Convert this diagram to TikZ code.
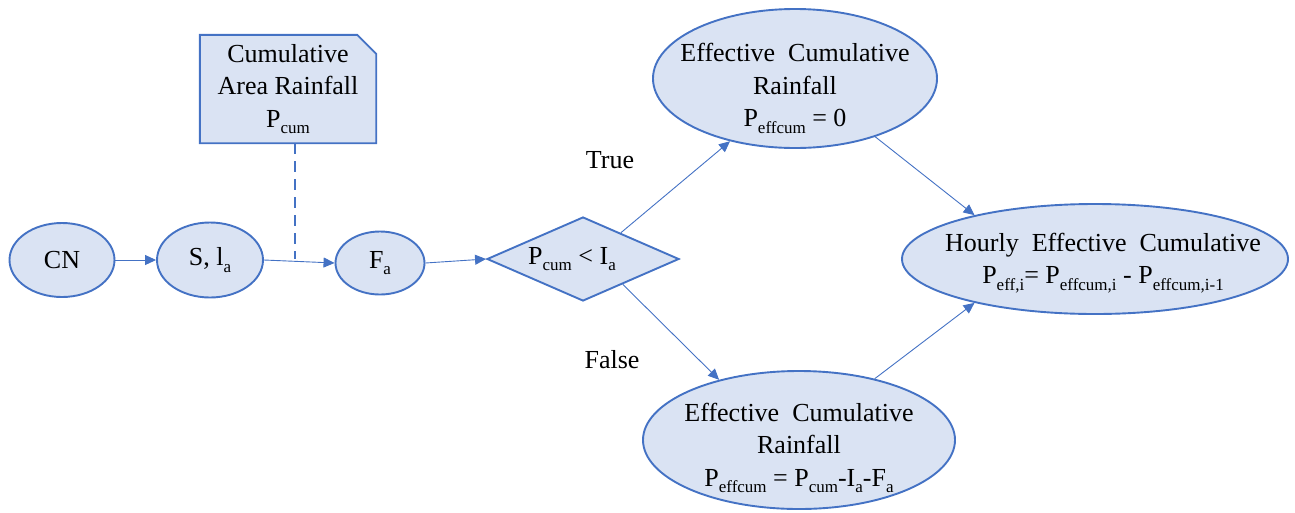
\documentclass[tikz,border=0pt]{standalone}
\usepackage{fontspec}
\setmainfont{Liberation Serif}
\usetikzlibrary{shapes.geometric,arrows.meta,calc,backgrounds}
\definecolor{boxfill}{HTML}{DAE3F3}
\definecolor{boxline}{HTML}{4472C4}
% lowered small text used for the index letters
\newcommand{\lowtxt}[1]{\raisebox{-0.24em}{\fontsize{17}{17}\selectfont #1}}
\begin{document}
\begin{tikzpicture}[x=1pt,y=-1pt,
  ell/.style={ellipse, draw=boxline, fill=boxfill, line width=1.9pt, inner sep=0pt},
  txt/.style={font=\fontsize{26}{32.5}\selectfont, align=center, text=black, inner sep=0pt},
  link/.style={draw=boxline, line width=0.9pt, -{Triangle[length=11pt,width=10pt]}},
  dashlink/.style={draw=boxline, line width=2.6pt, dash pattern=on 11pt off 7pt}]
\useasboundingbox (0,0) rectangle (1295,512);

% input and intermediate quantities
\node[ell, minimum width=105pt, minimum height=74pt,
      label={[txt]center:CN}] (CN) at (62,260) {};
\node[ell, minimum width=106pt, minimum height=75pt,
      label={[txt]center:{S,\ l\lowtxt{a}}}] (S) at (210,260) {};
\node[ell, minimum width=89pt, minimum height=63pt,
      label={[txt]center:{F\lowtxt{a}}}] (Fa) at (380,263) {};

% cumulative rainfall document
\node[txt, minimum width=176pt, minimum height=108pt] (doc) at (288,89)
  {Cumulative\\Area Rainfall\\P\lowtxt{cum}};
\begin{scope}[on background layer]
  \filldraw[draw=boxline, fill=boxfill, line width=1.9pt]
    (doc.south west) -- (doc.north west) -- ($(doc.north east)+(-19,0)$)
    -- ($(doc.north east)+(0,19)$) -- (doc.south east) -- cycle;
\end{scope}

% decision
\node[diamond, draw=boxline, fill=boxfill, line width=1.9pt, inner sep=0pt,
      minimum width=192pt, minimum height=84pt,
      label={[txt,xshift=-11pt]center:{P\lowtxt{cum} < I\lowtxt{a}}}] (dia) at (583,259) {};

% outcomes
\node[ell, minimum width=284pt, minimum height=139pt,
      label={[txt,yshift=-10pt]center:{Effective\ \ Cumulative\\Rainfall\\P\lowtxt{effcum} = 0}}] (top) at (795,78.5) {};
\node[ell, minimum width=312pt, minimum height=138pt,
      label={[txt,yshift=-8pt]center:{Effective\ \ Cumulative\\Rainfall\\P\lowtxt{effcum} = P\lowtxt{cum}-I\lowtxt{a}-F\lowtxt{a}}}] (bot) at (799,440) {};
\node[ell, minimum width=386pt, minimum height=110pt,
      label={[txt,xshift=8pt,yshift=-4pt]center:{Hourly\ \ Effective\ \ Cumulative\\P\lowtxt{eff,i}= P\lowtxt{effcum,i} - P\lowtxt{effcum,i-1}}}] (hr) at (1095,259) {};

% branch labels
\node[txt] (ytrue) at (610,160) {True};
\node[txt] (nfalse) at (612,360) {False};

% connectors
\coordinate (joint) at (295,259);
\draw[dashlink] ($(doc.south)+(7,0)$) -- (joint);
\draw[link] (CN.east) -- (S.west);
\draw[link] (S.east) -- (Fa.west);
\draw[link] (Fa.east) -- (dia.west);
\draw[link] ($(dia.north)!0.39!(dia.east)$) -- (top.224);
\draw[link] ($(dia.south)!0.41!(dia.east)$) -- (bot.143);
\draw[link] (top.-36) -- (hr.160);
\draw[link] (bot.39) -- (hr.200);
\end{tikzpicture}
\end{document}
